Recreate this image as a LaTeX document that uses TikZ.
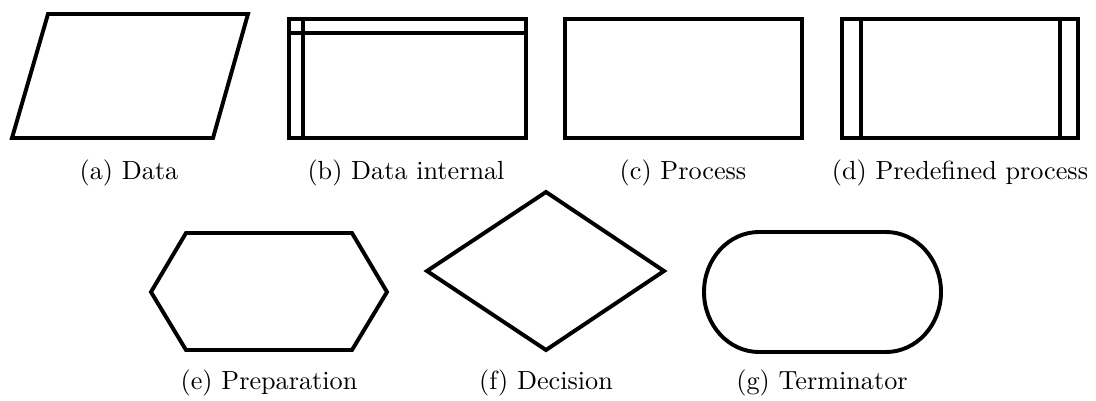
\documentclass[tikz,border=0pt]{standalone}
\usepackage{tikz}
\tikzset{
  symbol/.style={draw=black, line width=1.5pt, line join=miter},
  caption/.style={anchor=base, inner sep=0pt, font=\normalsize}
}
\begin{document}
\begin{tikzpicture}[x=0.3817pt, y=-0.3817pt]
  \useasboundingbox (0,0) rectangle (1096,400);

  % (a) data: parallelogram
  \draw[symbol] (48,14) -- (248,14) -- (213,138) -- (12,138) -- cycle;
  \node[caption] (capa) at (129,179) {(a) Data};

  % (b) data internal: box with a header strip and a side strip
  \draw[symbol] (289,19) rectangle (526,138);
  \draw[symbol] (303,19) -- (303,138);
  \draw[symbol] (289,33) -- (526,33);
  \node[caption] (capb) at (406,179) {(b) Data internal};

  % (c) process: plain box
  \draw[symbol] (565,19) rectangle (802,138);
  \node[caption] (capc) at (683,179) {(c) Process};

  % (d) predefined process: box with two side strips
  \draw[symbol] (842,19) rectangle (1078,138);
  \draw[symbol] (861,19) -- (861,138);
  \draw[symbol] (1060,19) -- (1060,138);
  \node[caption] (capd) at (960,179) {(d) Predefined process};

  % (e) preparation: hexagon
  \draw[symbol] (151,292) -- (186,233) -- (352,233) -- (387,292)
                -- (352,350) -- (186,350) -- cycle;
  \node[caption] (cape) at (269,389) {(e) Preparation};

  % (f) decision: diamond
  \draw[symbol] (546,192) -- (664,271) -- (546,350) -- (427,271) -- cycle;
  \node[caption] (capf) at (546,389) {(f) Decision};

  % (g) terminator: box with rounded ends
  \draw[symbol] (759,232) -- (886,232)
                arc[start angle=-90, end angle=90, x radius=55, y radius=60]
                -- (759,352)
                arc[start angle=90, end angle=270, x radius=55, y radius=60]
                -- cycle;
  \node[caption] (capg) at (822,389) {(g) Terminator};
\end{tikzpicture}
\end{document}
